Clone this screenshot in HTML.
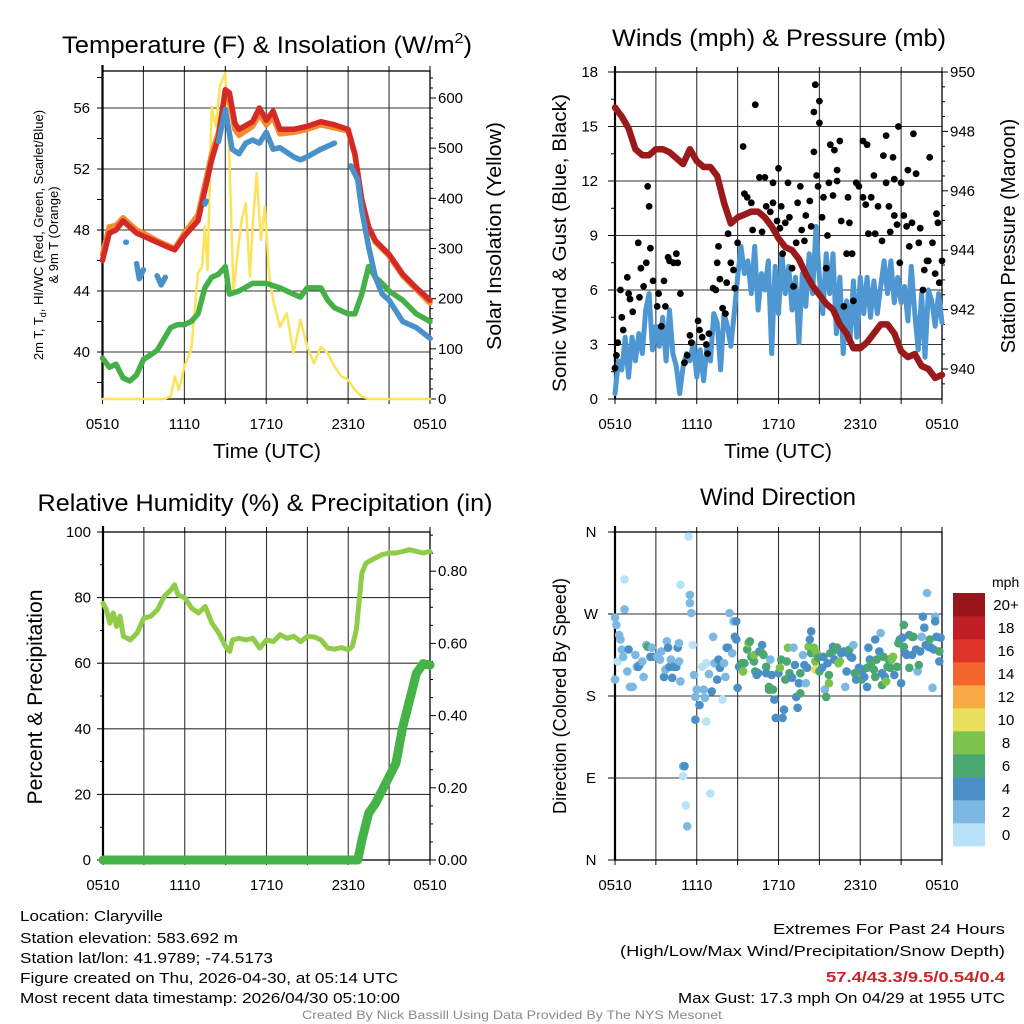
<!DOCTYPE html>
<html><head><meta charset="utf-8"><style>
html,body{margin:0;padding:0;background:#fff;}
svg{display:block;font-family:"Liberation Sans",sans-serif;}
</style></head><body>
<svg id="chart" width="1024" height="1024" viewBox="0 0 1024 1024" xmlns="http://www.w3.org/2000/svg">
<rect x="0" y="0" width="1024" height="1024" fill="#fff"/>
<text x="267" y="53" font-size="24" text-anchor="middle" textLength="410" lengthAdjust="spacingAndGlyphs">Temperature (F) &amp; Insolation (W/m<tspan font-size="15" dy="-10">2</tspan><tspan dy="10">)</tspan></text>
<text x="779" y="46" font-size="24" text-anchor="middle" textLength="334" lengthAdjust="spacingAndGlyphs">Winds (mph) &amp; Pressure (mb)</text>
<text x="265" y="511" font-size="24" text-anchor="middle" textLength="455" lengthAdjust="spacingAndGlyphs">Relative Humidity (%) &amp; Precipitation (in)</text>
<text x="778" y="505" font-size="24" text-anchor="middle">Wind Direction</text>
<text x="267" y="458" font-size="20" text-anchor="middle" textLength="108" lengthAdjust="spacingAndGlyphs">Time (UTC)</text>
<text x="778" y="458" font-size="20" text-anchor="middle" textLength="108" lengthAdjust="spacingAndGlyphs">Time (UTC)</text>
<text transform="translate(43,235) rotate(-90)" font-size="13" text-anchor="middle">2m T, T<tspan font-size="9" dy="3">d</tspan><tspan dy="-3">, HI/WC (Red, Green, Scarlet/Blue)</tspan></text>
<text transform="translate(58,235) rotate(-90)" font-size="13" text-anchor="middle">&amp; 9m T (Orange)</text>
<text transform="translate(501,236) rotate(-90)" font-size="20" text-anchor="middle" textLength="228" lengthAdjust="spacingAndGlyphs">Solar Insolation (Yellow)</text>
<text transform="translate(566,243) rotate(-90)" font-size="19" text-anchor="middle" textLength="298" lengthAdjust="spacingAndGlyphs">Sonic Wind &amp; Gust (Blue, Black)</text>
<text transform="translate(1015,236) rotate(-90)" font-size="20" text-anchor="middle">Station Pressure (Maroon)</text>
<text transform="translate(42,697) rotate(-90)" font-size="21" text-anchor="middle" textLength="215" lengthAdjust="spacingAndGlyphs">Percent &amp; Precipitation</text>
<text transform="translate(566,696) rotate(-90)" font-size="18" text-anchor="middle" textLength="236" lengthAdjust="spacingAndGlyphs">Direction (Colored By Speed)</text>
<text x="20" y="921" font-size="15" textLength="143" lengthAdjust="spacingAndGlyphs">Location: Claryville</text>
<text x="20" y="943" font-size="15" textLength="218" lengthAdjust="spacingAndGlyphs">Station elevation: 583.692 m</text>
<text x="20" y="963" font-size="15" textLength="253" lengthAdjust="spacingAndGlyphs">Station lat/lon: 41.9789; -74.5173</text>
<text x="20" y="983" font-size="15" textLength="378" lengthAdjust="spacingAndGlyphs">Figure created on Thu, 2026-04-30, at 05:14 UTC</text>
<text x="20" y="1003" font-size="15" textLength="380" lengthAdjust="spacingAndGlyphs">Most recent data timestamp: 2026/04/30 05:10:00</text>
<text x="1005" y="934" font-size="15" text-anchor="end" textLength="232" lengthAdjust="spacingAndGlyphs">Extremes For Past 24 Hours</text>
<text x="1005" y="956" font-size="15" text-anchor="end" textLength="385" lengthAdjust="spacingAndGlyphs">(High/Low/Max Wind/Precipitation/Snow Depth)</text>
<text x="1005" y="982" font-size="15" font-weight="bold" fill="#d0202a" text-anchor="end" textLength="179" lengthAdjust="spacingAndGlyphs">57.4/43.3/9.5/0.54/0.4</text>
<text x="1005" y="1003" font-size="15" text-anchor="end" textLength="327" lengthAdjust="spacingAndGlyphs">Max Gust: 17.3 mph On 04/29 at 1955 UTC</text>
<text x="512" y="1019" font-size="12" fill="#8a8a8a" text-anchor="middle" textLength="420" lengthAdjust="spacingAndGlyphs">Created By Nick Bassill Using Data Provided By The NYS Mesonet</text>
</svg>
<script>
// ---------- DATA ----------
const timeTickHours = [0, 6, 12, 18, 24];
const timeTickLabels = ["0510", "1110", "1710", "2310", "0510"];
// Panel 1
const tempHours = [0,0.5,1,1.5,2,2.5,3,4,5,5.3,6,7,8,8.5,9,9.3,9.7,10,11,11.5,12,12.5,13,14,15,16,17,18,18.5,19,19.5,20,21,22,23,24];
const tempValues = [46.0,47.8,48.0,48.6,48.2,47.8,47.6,47.2,46.8,46.7,47.6,48.6,52.6,54.1,57.2,57.0,55.0,54.6,55.1,56.0,55.2,55.8,54.6,54.6,54.8,55.1,54.9,54.6,53.0,50.0,48.2,47.3,46.4,45.1,44.2,43.4];
const temp9mValues = [46.4,48.2,48.3,48.8,48.4,48.0,47.8,47.3,46.9,46.8,47.8,49.0,53.0,54.4,57.0,56.5,54.6,54.2,54.8,55.6,54.9,55.4,54.3,54.4,54.6,54.9,54.7,54.5,52.9,49.9,48.1,47.2,46.3,45.0,44.1,43.2];
const windChillHours = [1.7,1.75,null,2.5,2.7,3.0,null,4.0,4.3,4.6,null,7.5,7.6,null,8.5,9,9.5,10,10.5,11,11.5,12,12.5,13,14,14.5,15,16,17,null,18.2,18.7,19,19.5,20,20.5,21,22,23,24];
const windChillValues = [47.2,47.2,null,45.8,44.8,45.4,null,45.0,44.4,44.9,null,49.7,49.9,null,53.8,55.9,53.3,53.0,53.7,53.9,53.7,54.4,53.3,53.4,52.8,52.6,52.8,53.3,53.7,null,52.2,51.3,49.3,46.9,44.9,43.8,43.4,42.0,41.6,40.9];
const dewHours = [0,0.5,1,1.5,2,2.5,3,4,5,5.5,6,6.5,7,7.5,8,8.5,9,9.3,10,11,12,13,14,14.5,15,16,16.5,17,18,18.5,19,19.5,20,20.5,21,22,23,24];
const dewValues = [39.6,39.0,39.2,38.3,38.1,38.5,39.5,40.1,41.6,41.8,41.8,42.0,42.5,44.2,44.9,45.1,45.6,43.8,44.0,44.5,44.5,44.2,43.8,43.6,44.2,44.2,43.4,42.9,42.5,42.5,43.8,45.6,44.9,44.5,44.0,43.4,42.5,42.0];
const solarHours = [0,4.5,5,5.3,5.6,6,6.5,7,7.3,7.5,7.7,8,8.3,8.6,9,9.3,9.6,9.9,10.2,10.5,10.8,11,11.3,11.6,11.9,12.2,12.5,13,13.5,14,14.5,15,15.5,16,16.5,17,17.5,18,18.5,19,19.5,24];
const solarValues = [0,0,5,45,18,65,98,251,264,344,257,583,544,623,650,477,211,291,357,390,244,344,450,317,384,251,198,144,171,91,158,104,71,104,91,65,45,38,18,5,0,0];
const tempTicks = [40,44,48,52,56];
const solarTicks = [0,100,200,300,400,500,600];
// Panel 2
const windHours = [0,0.25,0.5,0.75,1,1.25,1.5,1.75,2,2.25,2.5,2.75,3,3.25,3.5,3.75,4,4.25,4.5,4.75,5,5.25,5.5,5.75,6,6.25,6.5,6.75,7,7.25,7.5,7.75,8,8.25,8.5,8.75,9,9.25,9.5,9.75,10,10.25,10.5,10.75,11,11.25,11.5,11.75,12,12.25,12.5,12.75,13,13.25,13.5,13.75,14,14.25,14.5,14.75,15,15.25,15.5,15.75,16,16.25,16.5,16.75,17,17.25,17.5,17.75,18,18.25,18.5,18.75,19,19.25,19.5,19.75,20,20.25,20.5,20.75,21,21.25,21.5,21.75,22,22.25,22.5,22.75,23,23.25,23.5,23.75,24];
const windSpeeds = [0.3,2.1,1.6,3.4,1.2,3.4,2.1,3.6,2.5,4.9,5.8,2.7,4.0,2.9,4.5,2.1,4.9,2.5,1.8,0.3,1.8,2.5,2.1,3.1,1.2,2.7,1.0,2.9,2.1,4.7,4.2,1.6,4.7,4.0,2.9,4.7,6.7,8.4,6.9,7.6,5.8,8.4,4.9,6.9,6.0,7.6,2.5,7.3,4.7,8.0,5.8,7.3,4.9,6.7,3.1,6.9,5.1,8.0,5.8,9.5,6.7,4.7,8.0,5.8,8.0,3.6,6.7,2.5,5.4,3.2,6.5,3.4,6.7,4.7,6.7,4.5,6.5,4.7,6.2,7.6,5.8,7.6,5.3,6.7,5.3,6.2,4.3,7.3,4.7,2.7,5.8,2.3,6.0,5.4,4.0,5.8,4.2];
const gustHours = [0,0.1,0.2,0.4,0.5,0.6,0.9,1.0,1.1,1.3,1.7,1.8,1.9,2.1,2.3,2.4,2.5,2.6,2.8,3.1,3.2,3.4,3.6,3.7,3.9,4.0,4.3,4.5,4.6,4.8,5.1,5.3,5.5,5.6,6.1,6.2,6.4,6.7,6.8,6.9,7.2,7.4,7.5,7.6,7.7,7.9,8.1,8.2,8.3,8.5,8.7,8.8,9.0,9.4,9.5,9.7,10.0,10.1,10.3,10.6,10.8,11.0,11.1,11.4,11.6,11.6,11.9,12.0,12.1,12.2,12.3,12.5,12.7,12.8,13.0,13.1,13.3,13.4,13.6,13.7,13.9,14.0,14.3,14.4,14.6,14.6,14.7,14.8,14.9,15.0,15.0,15.2,15.3,15.5,15.6,15.7,15.8,16.0,16.1,16.3,16.3,16.5,16.6,16.8,17.0,17.1,17.2,17.4,17.5,17.7,17.9,18.2,18.2,18.4,18.5,18.6,18.8,19.0,19.1,19.3,19.6,19.7,19.9,19.9,20.1,20.2,20.4,20.5,20.5,20.7,20.8,20.9,21.0,21.2,21.4,21.5,21.6,21.8,21.9,22.1,22.3,22.4,22.6,22.7,22.9,23.0,23.1,23.3,23.5,23.6,23.7,23.8,24.0];
const gustSpeeds = [1.7,2.4,3.1,6.0,4.5,3.8,6.7,5.8,5.5,4.8,8.6,5.6,7.2,6.2,7.5,11.7,10.6,8.3,6.5,5.1,5.8,4.0,6.5,5.1,7.8,7.6,7.5,8.0,7.5,5.8,2.0,2.4,3.5,3.1,4.3,3.8,3.4,3.0,2.5,3.6,6.1,6.0,7.5,8.4,6.6,5.0,4.7,6.4,9.1,7.5,7.1,6.1,8.6,13.9,11.3,11.1,10.8,9.3,16.2,12.2,9.2,12.2,10.6,10.3,11.9,10.8,9.8,12.7,9.4,10.6,8.0,9.7,11.9,10.0,7.2,6.2,8.6,10.8,11.7,9.3,8.7,10.1,10.9,9.5,13.6,15.8,17.3,12.3,11.7,16.4,15.2,10.0,11.1,7.2,9.0,11.9,14.0,11.2,13.7,12.0,12.6,14.2,9.8,5.1,8.0,11.1,9.7,8.0,5.4,11.9,11.7,14.2,11.1,10.7,14.0,9.1,11.1,12.3,9.1,10.6,8.7,13.4,14.5,11.9,10.6,9.2,13.3,12.1,10.1,9.6,15.0,7.5,11.9,10.1,9.5,12.6,8.4,9.7,14.6,12.4,8.6,9.4,6.0,7.1,7.6,7.6,13.3,8.6,6.9,10.2,9.7,6.4,7.6];
const pressureHours = [0,0.5,1,1.5,2,2.5,3,3.5,4,4.5,5,5.5,6,6.5,7,7.5,8,8.5,9,9.5,10,10.5,11,11.5,12,12.5,13,13.5,14,14.5,15,15.5,16,16.5,17,17.5,18,18.5,19,19.5,20,20.5,21,21.5,22,22.5,23,23.5,24];
const pressureValues = [948.8,948.5,948.1,947.4,947.2,947.2,947.4,947.4,947.3,947.1,946.9,947.4,947.0,946.8,946.8,946.5,945.6,944.9,945.1,945.2,945.3,945.3,945.1,944.8,944.4,944.1,944.0,943.7,943.2,942.8,942.5,942.2,942.0,941.5,941.2,940.7,940.7,940.9,941.2,941.5,941.5,941.2,940.6,940.4,940.5,940.1,940.0,939.7,939.8];
const windTicks = [0,3,6,9,12,15,18];
const pressureTicks = [940,942,944,946,948,950];
// Panel 3
const rhHours = [0,0.25,0.5,0.75,1,1.25,1.5,2,2.5,3,3.5,4,4.5,5,5.25,5.5,6,6.5,7,7.5,8,8.5,9,9.3,9.5,10,10.5,11,11.5,12,12.5,13,13.5,14,14.5,15,15.5,16,16.5,17,17.5,18,18.3,18.6,18.8,19,19.3,19.5,20,20.5,21,21.5,22,22.5,23,23.5,24];
const rhValues = [78.3,76.3,72.2,75.3,71.2,74.3,68.2,67.1,69.2,73.8,74.3,76.3,80.4,82.4,83.9,80.9,79.9,76.8,75.3,77.3,72.2,69.2,65.1,63.6,67.1,67.6,67.1,67.6,64.6,67.1,66.6,68.7,67.6,68.2,66.6,68.2,68.0,67.1,64.6,64.3,64.8,64.1,65.1,70.2,79.3,87.5,90.5,91.0,92.1,93.1,93.6,93.6,94.1,94.6,94.1,93.6,94.1];
const precipHours = [0,18.7,19,19.5,20,20.5,21,21.5,22,22.5,23,23.5,24];
const precipValues = [0,0,0.055,0.13,0.157,0.194,0.231,0.268,0.369,0.443,0.517,0.544,0.54];
const rhTicks = [0,20,40,60,80,100];
const precipTicks = [0,0.2,0.4,0.6,0.8];
const precipTickLabels = ["0.00","0.20","0.40","0.60","0.80"];
// Panel 4
const dirHours = [0.0,0.0,0.1,0.2,0.3,0.4,0.5,0.6,0.7,0.7,0.9,1.0,1.1,1.3,1.5,1.6,1.7,1.8,2.0,2.1,2.3,2.4,2.6,2.7,2.8,3.1,3.3,3.4,3.6,3.7,3.8,3.9,4.0,4.1,4.2,4.3,4.5,4.6,4.7,4.7,4.8,4.8,5.0,5.0,5.1,5.2,5.3,5.4,5.5,5.5,5.6,5.7,5.8,5.9,5.9,6.0,6.2,6.4,6.5,6.6,6.7,6.7,6.9,7.0,7.1,7.2,7.3,7.5,7.6,7.7,7.9,8.0,8.1,8.2,8.3,8.4,8.6,8.7,8.8,8.9,8.9,9.0,9.1,9.3,9.4,9.5,9.7,9.8,9.9,10.0,10.2,10.2,10.3,10.4,10.5,10.6,10.8,10.8,10.9,11.1,11.1,11.3,11.3,11.4,11.5,11.6,11.7,11.8,12.0,12.1,12.2,12.3,12.4,12.5,12.6,12.7,12.8,13.0,13.1,13.2,13.3,13.4,13.5,13.6,13.6,13.8,13.9,14.0,14.1,14.2,14.3,14.4,14.4,14.6,14.7,14.7,14.8,14.9,15.0,15.2,15.3,15.4,15.5,15.6,15.7,15.7,15.8,15.9,16.0,16.1,16.2,16.3,16.4,16.5,16.6,16.8,16.9,17.0,17.1,17.2,17.3,17.4,17.5,17.6,17.7,17.9,18.0,18.1,18.2,18.3,18.5,18.5,18.6,18.7,18.8,19.0,19.1,19.1,19.2,19.4,19.5,19.6,19.6,19.7,19.8,19.9,20.0,20.1,20.2,20.3,20.4,20.5,20.7,20.8,20.9,21.0,21.1,21.2,21.2,21.3,21.4,21.6,21.6,21.8,21.8,21.9,22.1,22.2,22.3,22.4,22.5,22.6,22.7,22.8,22.9,23.0,23.1,23.2,23.3,23.4,23.5,23.5,23.6,23.8,23.8,23.9];
const dirDegrees = [198,266,258,218,247,242,231,223,308,275,207,231,190,190,225,212,212,214,218,201,236,234,223,233,223,223,220,229,201,209,240,233,212,220,200,212,212,233,238,218,196,302,103,92,103,60,37,355,291,282,271,236,203,179,154,187,170,212,187,178,152,216,204,73,185,245,216,198,220,211,176,216,201,233,233,271,227,262,245,262,242,189,212,216,207,216,231,238,240,223,218,225,207,203,205,229,236,227,225,212,205,190,187,220,203,187,176,156,205,211,220,156,165,198,218,233,205,200,233,214,179,167,194,183,205,225,214,194,211,234,242,251,227,233,218,209,227,222,207,211,223,187,179,216,203,194,227,227,234,220,231,233,216,218,227,229,190,207,227,231,223,222,236,205,198,211,207,198,209,201,190,211,233,220,216,209,201,242,220,229,249,205,192,223,201,196,212,220,211,220,223,203,212,238,242,194,244,258,234,227,225,211,247,225,245,245,231,207,214,229,245,267,255,236,293,234,242,233,189,231,267,262,245,229,218,244];
const dirSpeeds = [3,3,3,1,3,3,3,3,1,3,3,5,3,3,3,3,5,5,3,3,3,7,5,3,5,3,3,3,5,3,3,5,5,3,5,5,5,5,3,3,3,1,3,1,5,1,3,1,3,3,3,1,3,3,5,3,5,1,3,3,1,1,3,1,5,3,3,5,5,5,1,3,3,5,5,3,3,3,5,5,5,5,5,7,9,7,7,9,7,7,7,9,7,5,5,5,5,7,7,7,5,7,7,3,5,7,5,5,5,9,7,5,5,7,7,9,7,5,3,5,5,5,5,7,7,3,5,3,5,9,5,5,7,9,9,11,9,7,7,5,5,3,7,5,7,9,7,7,5,5,7,7,9,9,5,5,3,5,5,7,5,5,3,7,5,5,7,7,5,5,5,7,5,5,7,7,7,5,7,5,3,5,7,7,5,9,7,7,7,9,9,5,7,7,7,5,5,7,7,5,5,7,5,5,7,7,5,3,7,5,3,5,5,5,3,5,7,5,3,5,3,5,5,7,5,5];
const dirTicks = [0,90,180,270,360];
const dirTickLabels = ["N","E","S","W","N"];
const speedBinLabels = ["0","2","4","6","8","10","12","14","16","18","20+"];
const speedBinColors = ["#b8e2f8","#7db8e3","#4b8fc7","#4aa770","#7cc24c","#e8e05a","#f8aa46","#f2652c","#df3329","#c11d25","#96161b"];

// ---------- SCALES ----------
const x1 = h => 102.5 + h * (327.5 / 24);
const yT = v => 108 + (56 - v) * 61 / 4;
const yS = w => 399 - w * (301 / 600);
const x2 = h => 615 + h * (327 / 24);
const yW = m => 399 - m * (327 / 18);
const yP = p => 369 - (p - 940) * 29.7;
const x3 = h => 103 + h * (327 / 24);
const yRH = r => 860 - r * 3.28;
const yPr = i => 860 - i * 361;
const x4 = x2;
const yD = d => 860 - d * (328 / 360);

const NS = "http://www.w3.org/2000/svg";
const svg = document.getElementById('chart');
function mk(tag, parent) { const e = document.createElementNS(NS, tag); (parent || svg).appendChild(e); return e; }
function line(x1_, y1_, x2_, y2_, stroke, w, parent) {
  const l = mk('line', parent);
  l.setAttribute('x1', x1_); l.setAttribute('y1', y1_); l.setAttribute('x2', x2_); l.setAttribute('y2', y2_);
  l.setAttribute('stroke', stroke); l.setAttribute('stroke-width', w);
  return l;
}
function txt(x, y, s, size, anchor, parent) {
  const t = mk('text', parent);
  t.setAttribute('x', x); t.setAttribute('y', y); t.setAttribute('font-size', size);
  t.setAttribute('text-anchor', anchor); t.textContent = s;
  return t;
}
function pathFrom(hs, vs, xs, ys) {
  let d = "", pen = false;
  for (let i = 0; i < hs.length; i++) {
    if (hs[i] === null || vs[i] === null) { pen = false; continue; }
    d += (pen ? "L" : "M") + xs(hs[i]).toFixed(1) + "," + ys(vs[i]).toFixed(1);
    pen = true;
  }
  return d;
}
function series(hs, vs, xs, ys, color, w, name) {
  const p = mk('path');
  p.setAttribute('d', pathFrom(hs, vs, xs, ys));
  p.setAttribute('fill', 'none'); p.setAttribute('stroke', color); p.setAttribute('stroke-width', w);
  p.setAttribute('stroke-linejoin', 'round'); p.setAttribute('stroke-linecap', 'round');
  
  
  return p;
}

function frame(L, T, R, B, name, hLines, xs) {
  const g = mk('g');
  
  
  for (let h = 3; h < 24; h += 3) { line(xs(h), T, xs(h), B, '#333', 1.1, g); }
  hLines.forEach(y => line(L, y, R, y, '#333', 1.1, g));
  for (let h = 0; h <= 24; h += 3) { line(xs(h), B, xs(h), B + 5, '#000', 1, g); line(xs(h), T, xs(h), T - 5, '#000', 1, g); }
  const r = mk('rect', g);
  r.setAttribute('x', L); r.setAttribute('y', T); r.setAttribute('width', R - L); r.setAttribute('height', B - T);
  r.setAttribute('fill', 'none'); r.setAttribute('stroke', '#000'); r.setAttribute('stroke-width', 1.3);
  line(L, T - 6, L, B, '#000', 2.2, g);
  return g;
}
function xLabels(xs, y, name) {
  const g = mk('g');
  
  
  timeTickHours.forEach((h, i) => txt(xs(h), y, timeTickLabels[i], 15, 'middle', g));
}

// ---------- PANEL 1 ----------
frame(102.5, 71, 430, 399, 'temp-panel', tempTicks.map(yT), x1);
{
  const g = mk('g');
  
  
  for (let v = 38; v <= 58; v += 2) line(97, yT(v), 102.5, yT(v), '#000', 1, g);
  tempTicks.forEach(v => txt(90, yT(v) + 5, String(v), 15, 'end', g));
  const g2 = mk('g');
  
  
  for (let w = 0; w <= 640; w += 20) line(430, yS(w), w % 100 === 0 ? 436 : 433, yS(w), '#000', 1, g2);
  solarTicks.forEach(w => txt(438, yS(w) + 5, String(w), 15, 'start', g2));
}
xLabels(x1, 429, 'temp-x-tick-labels');
series(solarHours, solarValues, x1, yS, '#fde35a', 2.5, 'solar-insolation-line');
series(dewHours, dewValues, x1, yT, '#46b048', 5.5, 'dewpoint-line');
series(tempHours, temp9mValues, x1, yT, '#f58a2e', 5.5, 'temp-9m-line');
series(tempHours, tempValues, x1, yT, '#d42a26', 5.5, 'temp-2m-line');
series(windChillHours, windChillValues, x1, yT, '#4a90c9', 5.5, 'wind-chill-line');

// ---------- PANEL 2 ----------
frame(615, 72, 942, 399, 'wind-panel', [3,6,9,12,15].map(yW), x2);
{
  const g = mk('g');
  
  
  for (let m = 0; m <= 18; m += 1.5) line(m % 3 === 0 ? 608 : 611, yW(m), 615, yW(m), '#000', 1, g);
  windTicks.forEach(m => txt(598, yW(m) + 5, String(m), 15, 'end', g));
  const g2 = mk('g');
  
  
  for (let p = 939.5; p <= 950; p += 0.5) line(942, yP(p), Math.abs(p - Math.round(p / 2) * 2) < 0.01 ? 948 : 945, yP(p), '#000', 1, g2);
  pressureTicks.forEach(p => txt(950, yP(p) + 5, String(p), 15, 'start', g2));
}
xLabels(x2, 429, 'wind-x-tick-labels');
series(windHours, windSpeeds, x2, yW, '#4e97d2', 5, 'sonic-wind-line');
{
  const g = mk('g');
  
  
  gustHours.forEach((h, i) => {
    const c = mk('circle', g);
    c.setAttribute('cx', x2(h).toFixed(1)); c.setAttribute('cy', yW(gustSpeeds[i]).toFixed(1)); c.setAttribute('r', 3.4);
    c.setAttribute('fill', '#000');
    
    
  });
}
series(pressureHours, pressureValues, x2, yP, '#9a1a1c', 6.5, 'station-pressure-line');

// ---------- PANEL 3 ----------
frame(103, 532, 430, 860, 'rh-panel', [20,40,60,80].map(yRH), x3);
{
  const g = mk('g');
  
  
  for (let r = 0; r <= 100; r += 10) line(r % 20 === 0 ? 97 : 100, yRH(r), 103, yRH(r), '#000', 1, g);
  rhTicks.forEach(r => txt(91, yRH(r) + 5, String(r), 15, 'end', g));
  const g2 = mk('g');
  
  
  for (let k = 0; k <= 18; k++) line(430, yPr(k * 0.05), k % 4 === 0 ? 436 : 433, yPr(k * 0.05), '#000', 1, g2);
  precipTicks.forEach((v, i) => txt(438, yPr(v) + 5, precipTickLabels[i], 15, 'start', g2));
}
{
  const g = mk('g');
  
  
  timeTickHours.forEach((h, i) => txt(x3(h), 890, timeTickLabels[i], 15, 'middle', g));
}
series(rhHours, rhValues, x3, yRH, '#8fcc4a', 5, 'relative-humidity-line');
series(precipHours, precipValues, x3, yPr, '#45b347', 9, 'precipitation-line');

// ---------- PANEL 4 ----------
frame(615, 532, 942, 860, 'direction-panel', [90,180,270].map(yD), x4);
{
  const g = mk('g');
  
  
  dirTicks.forEach((d, i) => { line(608, yD(d), 615, yD(d), '#000', 1, g); txt(591, yD(d) + 5, dirTickLabels[i], 15, 'middle', g); });
}
{
  const g = mk('g');
  
  
  timeTickHours.forEach((h, i) => txt(x4(h), 890, timeTickLabels[i], 15, 'middle', g));
}
{
  const g = mk('g');
  
  
  dirHours.forEach((h, i) => {
    const c = mk('circle', g);
    const bin = Math.min(10, Math.floor(dirSpeeds[i] / 2));
    c.setAttribute('cx', x4(h).toFixed(1)); c.setAttribute('cy', yD(dirDegrees[i]).toFixed(1)); c.setAttribute('r', 4.3);
    c.setAttribute('fill', speedBinColors[bin]);
    
    
  });
}
{
  const g = mk('g');
  
  
  const t = txt(992, 587, 'mph', 14, 'start', g);
  
  
  const n = speedBinLabels.length;
  for (let i = 0; i < n; i++) {
    const top = 593 + (n - 1 - i) * 23;
    const r = mk('rect', g);
    r.setAttribute('x', 953); r.setAttribute('y', top); r.setAttribute('width', 32); r.setAttribute('height', 23.3);
    r.setAttribute('fill', speedBinColors[i]);
    
    
    const l = txt(1006, top + 17, speedBinLabels[i], 15, 'middle', g);
    
    
  }
}
</script>
</body></html>
